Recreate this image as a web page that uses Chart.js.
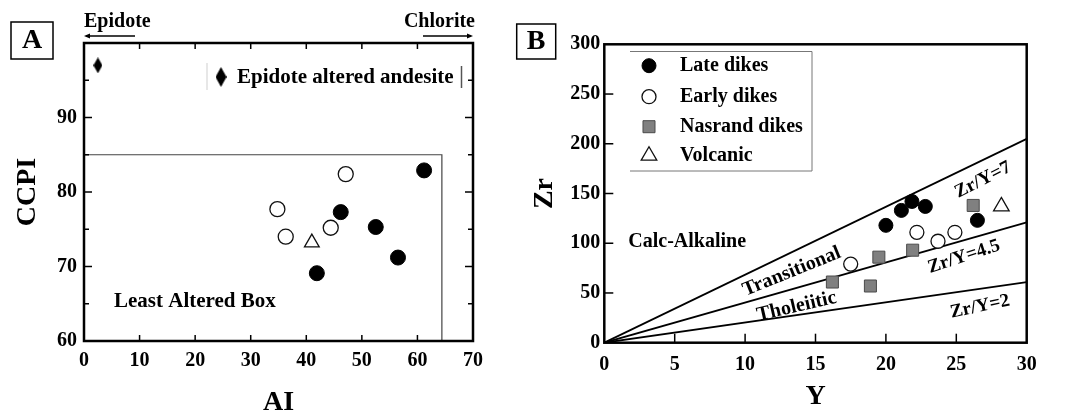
<!DOCTYPE html>
<html><head><meta charset="utf-8">
<script src="https://cdn.jsdelivr.net/npm/chart.js@4.4.1/dist/chart.umd.min.js"></script>
<style>
html,body{margin:0;padding:0;background:#fff;}
#wrap{position:relative;width:1067px;height:414px;overflow:hidden;background:#fff;}
#ca{position:absolute;left:0;top:0;}
#cb{position:absolute;left:510px;top:0;}
</style></head><body>
<div id="wrap"><canvas id="ca" width="510" height="414"></canvas><canvas id="cb" width="557" height="414"></canvas></div>
<script>
// ---------- Panel A data (AI vs CCPI) ----------
const aiLate = [61.2, 46.2, 52.5, 56.5, 41.9];
const ccpiLate = [82.9, 77.3, 75.3, 71.2, 69.1];
const aiEarly = [47.1, 34.8, 44.4, 36.3];
const ccpiEarly = [82.4, 77.7, 75.2, 74.0];
const aiVolc = [41.0];
const ccpiVolc = [73.2];
const aiEpidote = [2.5];
const ccpiEpidote = [97.0];
const boxAI = [0, 64.4, 64.4];
const boxCCPI = [85, 85, 60];
const ccpiLabelled = [60, 70, 80, 90];

// ---------- Panel B data (Y vs Zr) ----------
const yLate = [20.0, 21.1, 21.85, 22.8, 26.5];
const zrLate = [118, 133, 142, 137, 123];
const yEarly = [17.5, 22.2, 23.7, 24.9];
const zrEarly = [79, 111, 102, 111];
const yNasrand = [16.2, 18.9, 19.5, 21.9, 26.2];
const zrNasrand = [61, 57, 86, 93, 138];
const yVolc = [28.2];
const zrVolc = [137];
const lineY = [0, 30];
const zrLine7 = [0, 205];
const zrLine45 = [0, 121];
const zrLine2 = [0, 61];

const serif = "'Liberation Serif', 'Times New Roman', serif";
const pts = (xs, ys) => xs.map((v, i) => ({x: v, y: ys[i]}));
function bfont(sz){ return `bold ${sz}px ${serif}`; }
function txt(ctx, s, x, y, sz, align, rot){
  ctx.save(); ctx.translate(x, y); ctx.rotate((rot||0) * Math.PI / 180);
  ctx.font = bfont(sz); ctx.textAlign = align || 'center'; ctx.textBaseline = 'middle';
  ctx.fillStyle = '#000'; ctx.fillText(s, 0, 0); ctx.restore();
}
function line(ctx, x1, y1, x2, y2, w, c){
  ctx.save(); ctx.beginPath(); ctx.moveTo(x1, y1); ctx.lineTo(x2, y2);
  ctx.lineWidth = w; ctx.strokeStyle = c || '#000'; ctx.stroke(); ctx.restore();
}
function makeDiamond(w, h){
  const c = document.createElement('canvas'); c.width = w; c.height = h;
  const g = c.getContext('2d'); g.fillStyle = '#000'; g.beginPath();
  g.moveTo(w/2, 0); g.lineTo(w, h/2); g.lineTo(w/2, h); g.lineTo(0, h/2); g.closePath(); g.fill();
  return c;
}
const diamondPt = makeDiamond(9, 16);
const diamondLeg = makeDiamond(11, 20);

const tickFont = {family: serif, weight: 'bold', size: 20};

// ---------- Chart A ----------
const decoA = {
  id: 'decoA',
  afterDraw(chart){
    const {ctx, chartArea: ca, scales: {x, y}} = chart;
    // frame
    ctx.save(); ctx.strokeStyle = '#000'; ctx.lineWidth = 2.5;
    ctx.strokeRect(ca.left, ca.top, ca.right - ca.left, ca.bottom - ca.top); ctx.restore();
    // inward ticks
    x.ticks.forEach(t => {
      if (t.value <= x.min || t.value >= x.max) return;
      const px = x.getPixelForValue(t.value);
      line(ctx, px, ca.bottom, px, ca.bottom - 6, 1.5);
      line(ctx, px, ca.top, px, ca.top + 6, 1.5);
    });
    y.ticks.forEach(t => {
      if (t.value <= y.min || t.value >= y.max) return;
      const py = y.getPixelForValue(t.value);
      const L = (t.value % 10 === 0) ? 8 : 5;
      line(ctx, ca.left, py, ca.left + L, py, 1.5);
      line(ctx, ca.right, py, ca.right - L, py, 1.5);
    });
    // panel label
    ctx.save(); ctx.lineWidth = 1.5; ctx.strokeStyle = '#000'; ctx.strokeRect(11, 22, 42, 37); ctx.restore();
    txt(ctx, 'A', 32, 41, 28);
    // top arrows
    txt(ctx, 'Epidote', 84, 22, 20, 'left');
    line(ctx, 86, 36, 135, 36, 1.5);
    ctx.save(); ctx.fillStyle = '#000'; ctx.beginPath(); ctx.moveTo(84, 36); ctx.lineTo(90, 33.5); ctx.lineTo(90, 38.5); ctx.closePath(); ctx.fill(); ctx.restore();
    txt(ctx, 'Chlorite', 475, 22, 20, 'right');
    line(ctx, 423, 36, 471, 36, 1.5);
    ctx.save(); ctx.fillStyle = '#000'; ctx.beginPath(); ctx.moveTo(473, 36); ctx.lineTo(467, 33.5); ctx.lineTo(467, 38.5); ctx.closePath(); ctx.fill(); ctx.restore();
    // legend
    line(ctx, 207, 63, 207, 90, 1, '#cfcfcf');
    line(ctx, 461.5, 66, 461.5, 88, 1.5, '#555');
    ctx.drawImage(diamondLeg, 221 - 5.5, 77 - 10);
    txt(ctx, 'Epidote altered andesite', 237, 78, 21, 'left');
    // box label
    txt(ctx, 'Least Altered Box', 114, 302, 21, 'left');
  }
};

new Chart(document.getElementById('ca'), {
  type: 'scatter',
  data: {datasets: [
    {label: 'Epidote altered andesite', data: pts(aiEpidote, ccpiEpidote), pointStyle: diamondPt, pointRadius: 8},
    {label: 'Late dikes', data: pts(aiLate, ccpiLate), pointStyle: 'circle', pointRadius: 7.5, backgroundColor: '#000', borderColor: '#000', borderWidth: 1},
    {label: 'Early dikes', data: pts(aiEarly, ccpiEarly), pointStyle: 'circle', pointRadius: 7.5, backgroundColor: '#fff', borderColor: '#111', borderWidth: 1.3},
    {label: 'Volcanic', data: pts(aiVolc, ccpiVolc), pointStyle: 'triangle', pointRadius: 8.5, backgroundColor: '#fff', borderColor: '#111', borderWidth: 1.3},
    {label: 'Least Altered Box', data: pts(boxAI, boxCCPI), showLine: true, pointRadius: 0, borderColor: '#444', borderWidth: 1.2, fill: false}
  ]},
  options: {
    responsive: false, animation: false, devicePixelRatio: 1,
    layout: {padding: {left: 0, top: 43, right: 37, bottom: 0}},
    plugins: {legend: {display: false}, tooltip: {enabled: false}},
    scales: {
      x: {type: 'linear', min: 0, max: 70,
        grid: {display: false, drawTicks: false}, border: {display: false},
        ticks: {stepSize: 10, autoSkip: false, maxRotation: 0, padding: 8, color: '#000', font: tickFont},
        title: {display: true, text: 'AI', color: '#000', font: {family: serif, weight: 'bold', size: 28, lineHeight: 1}, padding: {top: 0, bottom: -3}},
        afterFit(s){ s.height = 73; }},
      y: {type: 'linear', min: 60, max: 100,
        grid: {display: false, drawTicks: false}, border: {display: false},
        ticks: {stepSize: 5, autoSkip: false, padding: 7, color: '#000', font: tickFont,
          callback: v => ccpiLabelled.includes(v) ? String(v) : ''},
        title: {display: true, text: 'CCPI', color: '#000', font: {family: serif, weight: 'bold', size: 28, lineHeight: 1.2}, padding: {top: 10.8, bottom: 0}},
        afterFit(s){ s.width = 84; }}
    }
  },
  plugins: [decoA]
});

// ---------- Chart B ----------
const decoB = {
  id: 'decoB',
  afterDraw(chart){
    const {ctx, chartArea: ca, scales: {x, y}} = chart;
    ctx.save(); ctx.strokeStyle = '#000'; ctx.lineWidth = 2.5;
    ctx.strokeRect(ca.left, ca.top, ca.right - ca.left, ca.bottom - ca.top); ctx.restore();
    x.ticks.forEach(t => {
      if (t.value <= x.min || t.value >= x.max) return;
      const px = x.getPixelForValue(t.value);
      line(ctx, px, ca.bottom, px, ca.bottom - 9, 1.5);
    });
    y.ticks.forEach(t => {
      if (t.value <= y.min || t.value >= y.max) return;
      const py = y.getPixelForValue(t.value);
      line(ctx, ca.left, py, ca.left + 9, py, 1.5);
    });
    // panel label
    ctx.save(); ctx.lineWidth = 1.5; ctx.strokeStyle = '#000'; ctx.strokeRect(6.7, 24, 39, 35); ctx.restore();
    txt(ctx, 'B', 26.2, 41.5, 28);
    // legend
    line(ctx, 120, 51.5, 302, 51.5, 1, '#777');
    line(ctx, 120, 171, 302, 171, 1, '#777');
    line(ctx, 302, 51.5, 302, 171, 1, '#777');
    const rows = [0, 1, 2, 3];
    const ly = [65.7, 96.7, 126.7, 155.7];
    rows.forEach(i => {
      const ds = chart.data.datasets[i];
      ctx.save();
      ctx.fillStyle = ds.backgroundColor; ctx.strokeStyle = ds.borderColor;
      ctx.lineWidth = ds.borderWidth;
      Chart.helpers.drawPoint(ctx, {pointStyle: ds.pointStyle, radius: ds.pointRadius, rotation: 0, borderWidth: ds.borderWidth}, 139, ly[i]);
      ctx.restore();
      txt(ctx, ds.label, 170, ly[i], 20, 'left');
    });
    // region and line labels
    txt(ctx, 'Calc-Alkaline', 118.3, 242.3, 20, 'left');
    txt(ctx, 'Transitional', 281.7, 271.7, 20, 'center', -22);
    txt(ctx, 'Tholeiitic', 286.7, 306.7, 20, 'center', -13);
    txt(ctx, 'Zr/Y=7', 473, 180, 19, 'center', -27);
    txt(ctx, 'Zr/Y=4.5', 454, 256.7, 19, 'center', -18);
    txt(ctx, 'Zr/Y=2', 470, 306.7, 19, 'center', -12);
  }
};

new Chart(document.getElementById('cb'), {
  type: 'scatter',
  data: {datasets: [
    {label: 'Late dikes', data: pts(yLate, zrLate), pointStyle: 'circle', pointRadius: 7, backgroundColor: '#000', borderColor: '#000', borderWidth: 1},
    {label: 'Early dikes', data: pts(yEarly, zrEarly), pointStyle: 'circle', pointRadius: 7, backgroundColor: '#fff', borderColor: '#111', borderWidth: 1.3},
    {label: 'Nasrand dikes', data: pts(yNasrand, zrNasrand), pointStyle: 'rect', pointRadius: 8.5, backgroundColor: '#808080', borderColor: '#4a4a4a', borderWidth: 1},
    {label: 'Volcanic', data: pts(yVolc, zrVolc), pointStyle: 'triangle', pointRadius: 9, backgroundColor: '#fff', borderColor: '#111', borderWidth: 1.3},
    {label: 'Zr/Y=7', data: pts(lineY, zrLine7), showLine: true, pointRadius: 0, borderColor: '#000', borderWidth: 1.8},
    {label: 'Zr/Y=4.5', data: pts(lineY, zrLine45), showLine: true, pointRadius: 0, borderColor: '#000', borderWidth: 1.8},
    {label: 'Zr/Y=2', data: pts(lineY, zrLine2), showLine: true, pointRadius: 0, borderColor: '#000', borderWidth: 1.8}
  ]},
  options: {
    responsive: false, animation: false, devicePixelRatio: 1,
    layout: {padding: {left: 0, top: 44.3, right: 40.3, bottom: 0}},
    plugins: {legend: {display: false}, tooltip: {enabled: false}},
    scales: {
      x: {type: 'linear', min: 0, max: 30,
        grid: {display: false, drawTicks: false}, border: {display: false},
        ticks: {stepSize: 5, autoSkip: false, maxRotation: 0, padding: 10, color: '#000', font: tickFont},
        title: {display: true, text: 'Y', color: '#000', font: {family: serif, weight: 'bold', size: 28, lineHeight: 1}, padding: {top: 0, bottom: 3.3}},
        afterFit(s){ s.height = 71.3; }},
      y: {type: 'linear', min: 0, max: 300,
        grid: {display: false, drawTicks: false}, border: {display: false},
        ticks: {stepSize: 50, autoSkip: false, padding: 4, color: '#000', font: tickFont},
        title: {display: true, text: 'Zr', color: '#000', font: {family: serif, weight: 'bold', size: 28, lineHeight: 1.2}, padding: {top: 18.2, bottom: 0}},
        afterFit(s){ s.width = 94.3; }}
    }
  },
  plugins: [decoB]
});
</script>
</body></html>
